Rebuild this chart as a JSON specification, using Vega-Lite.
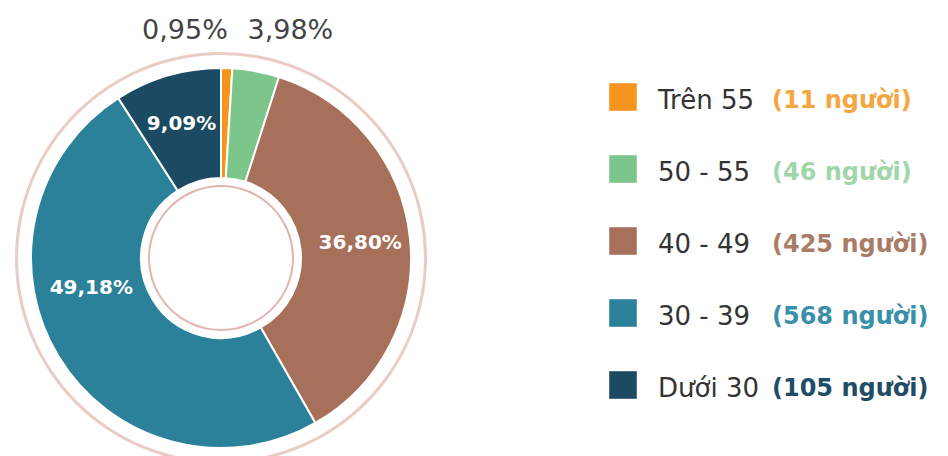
{
  "$schema": "https://vega.github.io/schema/vega-lite/v6.json",
  "width": 948,
  "height": 456,
  "autosize": {"type": "fit", "contains": "padding"},
  "padding": 0,
  "background": "white",
  "config": {"view": {"stroke": null}, "font": "DejaVu Sans"},
  "data": {"values": [
    {"group": "Trên 55", "order": 1, "count": 11, "pctLabel": "0,95%", "countLabel": "(11 người)"},
    {"group": "50 - 55", "order": 2, "count": 46, "pctLabel": "3,98%", "countLabel": "(46 người)"},
    {"group": "40 - 49", "order": 3, "count": 425, "pctLabel": "36,80%", "countLabel": "(425 người)"},
    {"group": "30 - 39", "order": 4, "count": 568, "pctLabel": "49,18%", "countLabel": "(568 người)"},
    {"group": "Dưới 30", "order": 5, "count": 105, "pctLabel": "9,09%", "countLabel": "(105 người)"}
  ]},
  "layer": [
    {
      "data": {"values": [{"ring": "outer"}]},
      "mark": {"type": "arc", "x": 221, "y": 258, "radius": 206, "radius2": 203, "theta": 0, "theta2": 6.2832, "color": "#E9CCC3"},
      "encoding": {}
    },
    {
      "data": {"values": [{"ring": "inner"}]},
      "mark": {"type": "arc", "x": 221, "y": 258, "radius": 73, "radius2": 71, "theta": 0, "theta2": 6.2832, "color": "#E2B4B0"},
      "encoding": {}
    },
    {
      "mark": {"type": "arc", "x": 221, "y": 258, "radius": 190, "radius2": 80, "stroke": "white", "strokeWidth": 2},
      "encoding": {
        "theta": {"field": "count", "type": "quantitative", "stack": true},
        "order": {"field": "order", "type": "quantitative"},
        "color": {"field": "group", "type": "nominal",
          "scale": {"domain": ["Trên 55", "50 - 55", "40 - 49", "30 - 39", "Dưới 30"],
                    "range": ["#F7941D", "#7CC68C", "#A6705A", "#2A8199", "#1C4A62"]},
          "legend": null}
      }
    },
    {
      "mark": {"type": "text", "x": 221, "y": 258, "radius": 227, "align": "right", "baseline": "middle", "fontSize": 27, "color": "#444444"},
      "encoding": {
        "theta": {"field": "count", "type": "quantitative", "stack": true},
        "order": {"field": "order", "type": "quantitative"},
        "text": {"condition": {"test": "datum.order == 1", "field": "pctLabel"}, "value": ""}
      }
    },
    {
      "mark": {"type": "text", "x": 221, "y": 258, "radius": 231, "align": "left", "dx": -16, "baseline": "middle", "fontSize": 27, "color": "#444444"},
      "encoding": {
        "theta": {"field": "count", "type": "quantitative", "stack": true},
        "order": {"field": "order", "type": "quantitative"},
        "text": {"condition": {"test": "datum.order == 2", "field": "pctLabel"}, "value": ""}
      }
    },
    {
      "mark": {"type": "text", "x": 221, "y": 258, "radius": 140, "align": "center", "baseline": "middle", "fontSize": 20, "fontWeight": "bold", "color": "white"},
      "encoding": {
        "theta": {"field": "count", "type": "quantitative", "stack": true},
        "order": {"field": "order", "type": "quantitative"},
        "text": {"condition": {"test": "datum.order == 3 || datum.order == 5", "field": "pctLabel"}, "value": ""}
      }
    },
    {
      "mark": {"type": "text", "x": 221, "y": 258, "radius": 133, "align": "center", "baseline": "middle", "dx": -16, "dy": -39, "fontSize": 20, "fontWeight": "bold", "color": "white"},
      "encoding": {
        "theta": {"field": "count", "type": "quantitative", "stack": true},
        "order": {"field": "order", "type": "quantitative"},
        "text": {"condition": {"test": "datum.order == 4", "field": "pctLabel"}, "value": ""}
      }
    },
    {
      "mark": {"type": "square", "x": 623, "yOffset": -4, "size": 760, "opacity": 1},
      "encoding": {
        "y": {"field": "group", "type": "ordinal", "sort": ["Trên 55", "50 - 55", "40 - 49", "30 - 39", "Dưới 30"],
              "scale": {"type": "point", "range": [101, 389], "padding": 0}, "axis": null},
        "color": {"field": "group", "type": "nominal", "legend": null}
      }
    },
    {
      "mark": {"type": "text", "x": 658, "align": "left", "baseline": "middle", "fontSize": 26, "color": "#333333"},
      "encoding": {
        "y": {"field": "group", "type": "ordinal", "sort": ["Trên 55", "50 - 55", "40 - 49", "30 - 39", "Dưới 30"],
              "scale": {"type": "point", "range": [101, 389], "padding": 0}, "axis": null},
        "text": {"field": "group"}
      }
    },
    {
      "mark": {"type": "text", "x": 772, "align": "left", "baseline": "middle", "fontSize": 24, "fontWeight": "bold"},
      "encoding": {
        "y": {"field": "group", "type": "ordinal", "sort": ["Trên 55", "50 - 55", "40 - 49", "30 - 39", "Dưới 30"],
              "scale": {"type": "point", "range": [101, 389], "padding": 0}, "axis": null},
        "text": {"field": "countLabel"},
        "fill": {"field": "group", "type": "nominal",
          "scale": {"domain": ["Trên 55", "50 - 55", "40 - 49", "30 - 39", "Dưới 30"],
                    "range": ["#F4A640", "#9FD6AA", "#A97C66", "#3A90A9", "#1F4D66"]},
          "legend": null}
      }
    }
  ]
}
